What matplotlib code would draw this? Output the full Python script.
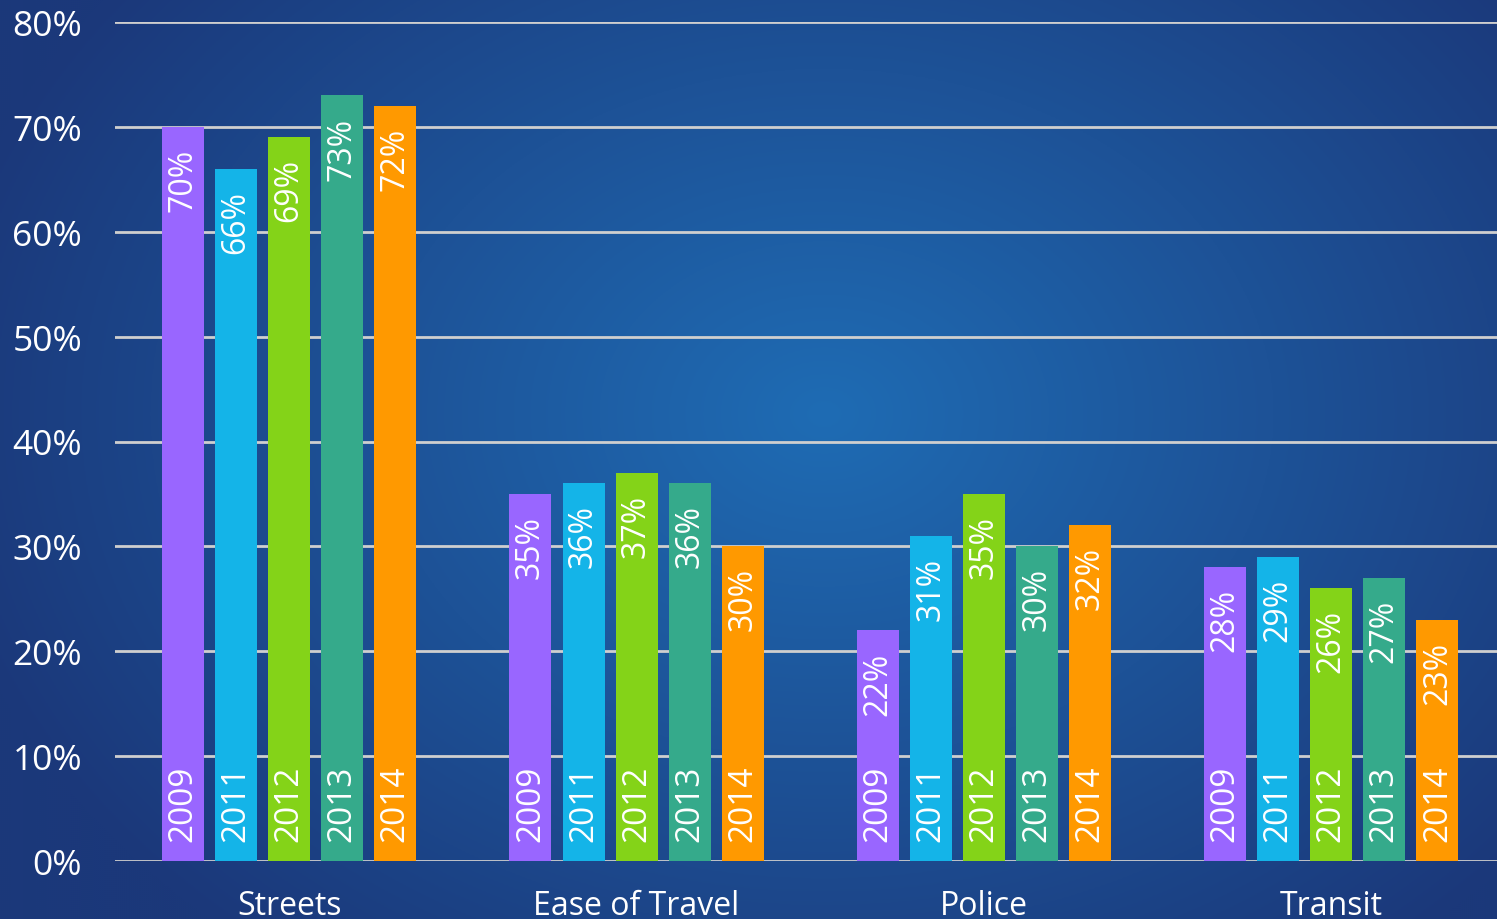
import numpy as np
import matplotlib
matplotlib.use("Agg")
import matplotlib.pyplot as plt

categories = ["Streets", "Ease of Travel", "Police", "Transit"]
years = ["2009", "2011", "2012", "2013", "2014"]
values = {
    "2009": [70, 35, 22, 28],
    "2011": [66, 36, 31, 29],
    "2012": [69, 37, 35, 26],
    "2013": [73, 36, 30, 27],
    "2014": [72, 30, 32, 23],
}
colors = ["#9966ff", "#14b4e8", "#84d318", "#35aa8b", "#ff9900"]
yticks = [0, 10, 20, 30, 40, 50, 60, 70, 80]

plt.rcParams['font.family'] = ['Open Sans', 'DejaVu Sans']

fig = plt.figure(figsize=(14.97, 9.2), dpi=100)

# radial gradient background
bg = fig.add_axes([0, 0, 1, 1])
h, w = 460, 748
yy, xx = np.mgrid[0:h, 0:w]
cx, cy = w * 0.55, h * 0.45
r = np.sqrt(((xx - cx) / (w * 0.6)) ** 2 + ((yy - cy) / (h * 0.75)) ** 2)
r = np.clip(r, 0, 1)
inner = np.array([0x1f, 0x6c, 0xb4]) / 255
outer = np.array([0x1b, 0x38, 0x7a]) / 255
img = inner[None, None, :] * (1 - r[..., None]) + outer[None, None, :] * r[..., None]
bg.imshow(img, aspect='auto', extent=[0, 1, 0, 1], origin='upper')
bg.axis('off')

left_px, right_px = 115.5, 1505.0
ax = fig.add_axes([left_px / 1497, (920 - 862) / 920, (right_px - left_px) / 1497, (862 - 23) / 920])
ax.patch.set_alpha(0)
for s in ax.spines.values():
    s.set_visible(False)

x = np.arange(len(categories))
width = 0.121
step = 0.1527
for i, (yr, col) in enumerate(zip(years, colors)):
    xs = x + (i - 2) * step
    vals = values[yr]
    ax.bar(xs, vals, width=width, color=col, zorder=3)
    for xv, v in zip(xs, vals):
        ax.text(xv, v - 2.0, f"{v}%", rotation=90, ha='center', va='top',
                color='white', fontsize=23, zorder=4)
        ax.text(xv, 1.9, yr, rotation=90, ha='center', va='bottom',
                color='white', fontsize=24, zorder=4)

ax.set_xlim(-0.5, 3.5)
ax.set_ylim(0, 80)
ax.set_yticks(yticks)
ax.set_yticklabels([f"{t}%" for t in yticks], color='white', fontsize=25.5)
ax.tick_params(axis='y', length=0, pad=24)
ax.yaxis.grid(True, color='#cfcfcf', linewidth=2, zorder=0)
ax.set_axisbelow(True)
ax.set_xticks(x)
ax.set_xticklabels(categories, color='white', fontsize=23)
ax.tick_params(axis='x', length=0, pad=20)

fig.savefig("out.png", dpi=100)
